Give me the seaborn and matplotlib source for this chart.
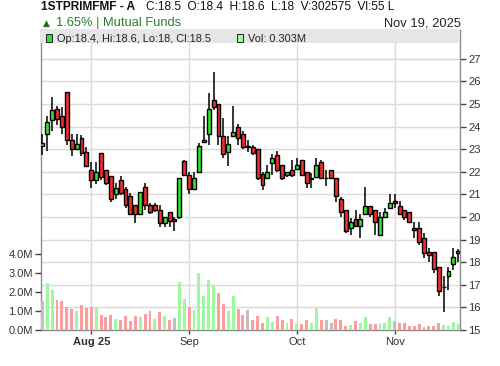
import numpy as np
import pandas as pd
import matplotlib
matplotlib.use("Agg")
import matplotlib.pyplot as plt
import seaborn as sns
from matplotlib.patches import Rectangle

# ---- data (86 sessions) ----
opens = [23.12, 23.69, 24.31, 24.80, 24.48, 25.51, 23.40, 22.99, 23.51, 22.88,
         22.10, 21.63, 22.81, 22.10, 21.80, 21.00, 21.62, 21.25, 20.92, 20.51,
         20.12, 21.32, 20.51, 20.51, 20.31, 19.72, 20.21, 19.90, 19.98, 22.50,
         21.88, 21.22, 22.01, 23.32, 23.69, 25.19, 25.01, 23.59, 22.88, 23.59,
         24.00, 23.69, 23.12, 23.10, 22.99, 21.90, 21.71, 22.41, 22.74, 22.28,
         21.88, 22.10, 22.11, 22.52, 22.01, 21.69, 21.79, 22.42, 21.71, 22.10,
         21.71, 20.78, 20.29, 19.50, 19.90, 19.59, 20.12, 20.50, 20.29, 19.19,
         19.99, 20.38, 20.69, 20.50, 20.29, 20.21, 19.50, 19.50, 19.09, 18.47,
         18.47, 17.78, 16.89, 17.37, 17.90, 18.40]
highs = [23.69, 24.48, 25.29, 24.91, 24.87, 25.51, 23.69, 23.69, 23.65, 23.10,
         22.42, 22.42, 22.81, 22.10, 21.80, 21.49, 21.82, 21.34, 21.04, 20.55,
         21.12, 21.49, 20.60, 20.60, 20.51, 20.00, 20.21, 20.00, 21.71, 22.50,
         22.00, 22.00, 23.29, 24.45, 25.50, 26.40, 25.01, 24.40, 23.60, 24.90,
         24.10, 23.79, 23.40, 23.18, 22.99, 22.01, 22.28, 22.79, 22.90, 22.28,
         22.01, 22.50, 22.59, 22.52, 22.01, 21.93, 22.59, 22.50, 22.10, 22.10,
         21.71, 20.90, 20.29, 19.94, 20.31, 20.12, 21.31, 20.50, 20.29, 20.24,
         20.38, 21.00, 21.00, 20.69, 20.29, 20.21, 19.79, 19.79, 19.28, 18.65,
         18.47, 17.78, 17.40, 17.78, 18.62, 18.60]
lows = [22.74, 22.90, 23.80, 24.07, 23.68, 23.18, 22.71, 22.99, 22.71, 22.27,
        21.29, 21.47, 21.63, 21.41, 20.68, 20.78, 20.97, 20.38, 20.10, 19.72,
        20.10, 20.31, 20.12, 20.20, 19.57, 19.57, 19.57, 19.40, 19.90, 21.88,
        21.00, 21.22, 22.01, 23.32, 23.20, 24.72, 23.18, 22.59, 22.25, 23.59,
        23.18, 23.00, 22.88, 22.74, 21.63, 21.21, 21.71, 21.88, 22.00, 21.62,
        21.78, 21.78, 22.11, 21.88, 21.29, 21.29, 21.79, 21.71, 21.38, 21.71,
        20.68, 19.99, 19.28, 19.19, 19.59, 19.09, 20.12, 20.00, 19.19, 19.19,
        19.99, 20.38, 20.38, 20.12, 19.87, 19.72, 19.09, 18.76, 18.18, 18.00,
        17.51, 16.49, 15.78, 16.78, 17.66, 18.00]
closes = [23.29, 24.22, 24.72, 24.32, 24.00, 23.40, 22.99, 23.21, 22.81, 22.27,
          21.63, 22.00, 21.79, 21.49, 20.78, 21.30, 21.07, 20.53, 20.15, 20.12,
          21.10, 20.52, 20.21, 20.31, 19.72, 19.98, 19.81, 19.81, 21.71, 21.88,
          21.22, 21.71, 23.12, 23.41, 24.79, 24.87, 23.59, 22.79, 23.21, 23.78,
          23.50, 23.10, 23.10, 22.82, 21.71, 21.40, 22.01, 22.59, 22.10, 21.71,
          22.00, 21.88, 22.29, 21.88, 21.49, 21.71, 22.29, 21.71, 21.71, 21.71,
          20.92, 20.21, 19.40, 19.79, 19.59, 19.90, 20.50, 20.12, 19.79, 19.99,
          20.21, 20.60, 20.60, 20.12, 19.99, 19.79, 19.41, 18.88, 18.40, 18.30,
          17.71, 16.72, 16.90, 17.60, 18.22, 18.50]
volumes_m = [1.53, 2.47, 2.11, 1.58, 1.53, 1.21, 1.11, 1.00, 1.32, 1.16,
             1.21, 1.18, 0.79, 0.68, 0.79, 0.58, 0.53, 0.74, 0.47, 0.74,
             0.68, 0.84, 1.00, 0.58, 0.95, 0.74, 0.53, 0.63, 2.53, 1.63,
             1.21, 1.05, 3.00, 1.79, 2.63, 2.37, 1.95, 1.37, 1.00, 1.79,
             1.11, 0.79, 1.05, 0.53, 0.74, 0.37, 0.68, 0.42, 0.74, 0.53,
             0.37, 0.58, 0.37, 0.32, 0.53, 0.37, 1.16, 0.53, 0.53, 0.37,
             0.58, 0.53, 0.21, 0.26, 0.47, 0.37, 0.68, 0.32, 0.32, 0.37,
             0.37, 0.68, 0.47, 0.37, 0.37, 0.21, 0.21, 0.32, 0.16, 0.21,
             0.21, 0.37, 0.26, 0.21, 0.42, 0.303]
month_ticks = [10, 30, 52, 72]
month_labels = ["Aug 25", "Sep", "Oct", "Nov"]
price_ticks = list(range(15, 28))
vol_ticks = [0, 1, 2, 3, 4]
vol_labels = ["0.0M", "1.0M", "2.0M", "3.0M", "4.0M"]

# ---- style ----
sns.set_theme(style="white")
plt.rcParams['font.family'] = ['Liberation Sans', 'DejaVu Sans']

W, H = 500, 366
L, R, T, B = 41, 460, 30, 330
fig = plt.figure(figsize=(W / 100, H / 100), dpi=100)
fig.patch.set_facecolor("white")
ax = fig.add_axes([L / W, 1 - B / H, (R - L) / W, (B - T) / H])
ax2 = ax.twinx()

n = len(closes)
idx = np.arange(n)
o = np.array(opens); c = np.array(closes)
h = np.array(highs); lo = np.array(lows)

# volume colour by change of close vs previous close
d = np.round(np.diff(c), 2)
direction = ["flat"] + ["up" if v > 0 else ("down" if v < 0 else "flat") for v in d]
df = pd.DataFrame({"idx": idx, "vol": volumes_m, "dir": direction})
sns.barplot(data=df, x="idx", y="vol", hue="dir", native_scale=True, dodge=False,
            palette={"up": "#9cf99c", "down": "#ff9d9d", "flat": "#bfbfbf"},
            width=0.6, errorbar=None, legend=False, saturation=1, linewidth=0, ax=ax2)

# candles
up = c >= o
body_col = np.where(up, "#2ee82e", "#f52d2d")
ax.vlines(idx, lo, h, color="black", lw=1.1, zorder=3)
body_h = np.maximum(np.abs(c - o), 0.015)
ax.bar(idx, body_h, bottom=np.minimum(o, c), width=0.8, color=body_col,
       edgecolor="black", linewidth=1.0, zorder=4)

# axes limits / ticks
ax.set_xlim(-0.27, 85.35)
ax.set_ylim(15, 15 + 300 / 22.6)
ax2.set_ylim(0, 300 / 19.0)

ax.yaxis.tick_right()
ax.set_yticks(price_ticks)
ax.set_yticklabels([str(t) for t in price_ticks])
ax.set_xticks(month_ticks)
ax.set_xticklabels(month_labels)
ax.get_xticklabels()[0].set_fontweight("bold")
ax.tick_params(axis="y", which="both", right=True, left=False, length=4, width=1,
               color="#444444", labelsize=8, labelcolor="#333333", pad=2)
ax.tick_params(axis="x", bottom=True, length=3, width=1, color="#444444",
               labelsize=8, labelcolor="#333333", pad=2)

ax2.yaxis.tick_left()
ax2.set_yticks(vol_ticks)
ax2.set_yticklabels(vol_labels)
ax2.tick_params(axis="y", left=True, right=False, length=4, width=1,
                color="#444444", labelsize=8, labelcolor="#333333", pad=2)
ax2.set_ylabel(""); ax2.set_xlabel(""); ax.set_xlabel(""); ax.set_ylabel("")
for s in ax2.spines.values():
    s.set_visible(False)

ax.grid(True, axis="both", color="#dadada", lw=1)
ax.set_axisbelow(True)
for s in ax.spines.values():
    s.set_visible(True)
    s.set_color("#8c8c8c")
    s.set_linewidth(1)

# legend band at top of plot
band_h = 13 / 300
ax.add_patch(Rectangle((0, 1 - band_h), 1, band_h, transform=ax.transAxes,
                       facecolor="#e6e6e6", edgecolor="none", zorder=5, clip_on=False))

def px(x, y):
    return x / W, 1 - y / H

fig.add_artist(Rectangle(px(46, 41.5), 6 / W, 7 / H, transform=fig.transFigure,
                         facecolor="#33dd33", edgecolor="#222222", lw=0.7, zorder=10))
fig.text(*px(57, 38.5), "Op:18.4, Hi:18.6, Lo:18, Cl:18.5", fontsize=7.9,
         va="center", ha="left", color="#222222", zorder=10)
fig.add_artist(Rectangle(px(237, 41.5), 6 / W, 7 / H, transform=fig.transFigure,
                         facecolor="#9cf99c", edgecolor="#222222", lw=0.7, zorder=10))
fig.text(*px(248, 38.5), "Vol: 0.303M", fontsize=7.9, va="center", ha="left",
         color="#222222", zorder=10)

# header
fig.text(*px(41, 10.5), "1STPRIMFMF - A", fontsize=8.6, fontweight="bold",
         va="baseline", ha="left", color="#111111")
fig.text(*px(146, 10.5), "C:18.5  O:18.4  H:18.6  L:18  V:302575  Vl:55 L",
         fontsize=8.6, va="baseline", ha="left", color="#111111")
fig.text(*px(42.5, 26), "\u25B2", fontsize=6.5, va="baseline", ha="left",
         color="#1f6e1f", family=["DejaVu Sans"])
fig.text(*px(56.5, 26.3), "1.65% | Mutual Funds", fontsize=9.3, va="baseline",
         ha="left", color="#2e7d32")
fig.text(*px(460.7, 26.3), "Nov 19, 2025", fontsize=9.3, va="baseline",
         ha="right", color="#222222")

fig.savefig("out.png", dpi=100, facecolor="white")
